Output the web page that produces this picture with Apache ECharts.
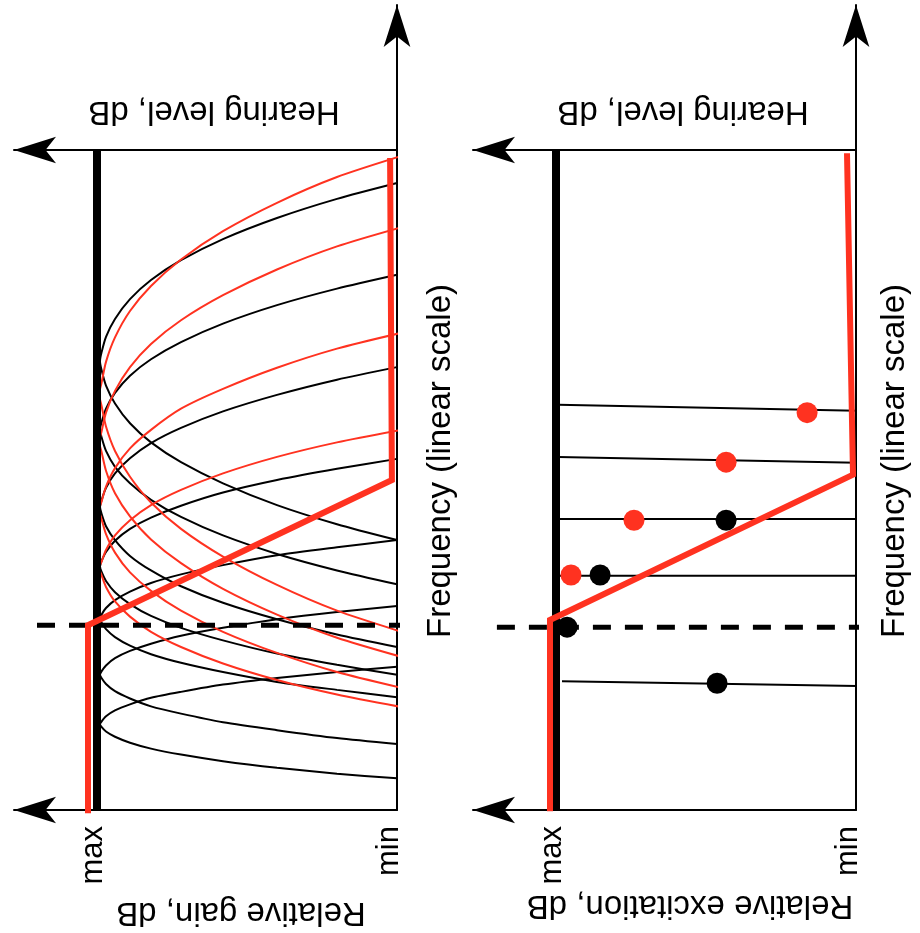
<!DOCTYPE html>
<html><head><meta charset="utf-8">
<script src="https://cdn.jsdelivr.net/npm/echarts@6/dist/echarts.min.js"></script>
<style>html,body{margin:0;padding:0;background:#fff}#c{width:920px;height:933px}</style>
</head><body><div id="c"></div>
<script>
// ---- Data (gain: 0 = min, 100 = max; frequency: 0 = bottom, 100 = top of box) ----
const gainTickValues = [0, 100];
const gainTickLabels = ['min', 'max'];

// gain positions sampled along each filter curve (lower tail -> tip -> upper tail)
const filterGain = [0, 20, 40, 58, 72, 82, 89, 94, 97, 98.5, 99, 98.5, 97, 94, 89, 82, 72, 58, 40, 20, 0];
const redGain = [-1.5, 20, 40, 58, 72, 82, 89, 94, 97, 98.5, 99.3, 98.5, 97, 94, 89, 82, 72, 58, 40, 20, -1.5];

// normal-hearing filters (black): frequency at each sampled gain
const blackG = [40.9, 43.3, 46.2, 49.5, 52.7, 55.7, 58.6, 61.6, 64.3, 66.7, 68.0, 69.3, 71.7, 74.4, 77.4, 80.3, 83.3, 86.5, 89.7, 92.6, 95.0];
const blackF = [34.2, 36.3, 38.8, 41.6, 44.4, 47.0, 49.5, 52.0, 54.4, 56.5, 57.6, 58.7, 60.8, 63.2, 65.8, 68.3, 70.9, 73.7, 76.5, 79.0, 81.1];
const blackE = [24.7, 26.6, 28.9, 31.4, 33.9, 36.3, 38.5, 40.9, 43.0, 44.9, 45.9, 46.9, 48.8, 51.0, 53.3, 55.6, 57.9, 60.4, 62.9, 65.2, 67.1];
const blackD = [20.5, 22.0, 23.7, 25.7, 27.6, 29.4, 31.2, 33.0, 34.7, 36.1, 36.9, 37.7, 39.1, 40.8, 42.6, 44.3, 46.1, 48.1, 50.0, 51.7, 53.2];
const blackC = [17.1, 18.2, 19.4, 20.9, 22.3, 23.6, 24.9, 26.2, 27.4, 28.4, 29.0, 29.6, 30.6, 31.8, 33.1, 34.4, 35.7, 37.1, 38.6, 39.8, 40.9];
const blackB = [10.0, 10.9, 12.1, 13.3, 14.6, 15.7, 16.9, 18.0, 19.1, 20.0, 20.5, 21.0, 21.9, 23.0, 24.1, 25.2, 26.4, 27.6, 28.9, 30.0, 30.9];
const blackA = [4.8, 5.5, 6.4, 7.4, 8.4, 9.3, 10.2, 11.1, 11.9, 12.6, 13.0, 13.4, 14.2, 15.1, 16.0, 17.0, 17.9, 19.0, 20.0, 20.9, 21.7];

// broadened filters (red)
const red1 = [27.0, 30.2, 34.1, 38.4, 42.6, 46.6, 50.5, 54.4, 58.1, 61.3, 63.0, 64.7, 67.9, 71.6, 75.6, 79.4, 83.4, 87.7, 92.0, 95.9, 99.1];
const red2 = [23.2, 26.1, 29.6, 33.5, 37.4, 41.0, 44.5, 48.0, 51.4, 54.3, 55.8, 57.3, 60.2, 63.5, 67.1, 70.6, 74.2, 78.0, 81.9, 85.4, 88.3];
const red3 = [18.5, 20.9, 23.8, 27.0, 30.2, 33.2, 36.0, 39.0, 41.8, 44.1, 45.4, 46.7, 49.0, 51.8, 54.8, 57.6, 60.8, 63.8, 67.0, 69.9, 72.3];
const red4 = [15.6, 17.5, 19.7, 22.2, 24.7, 27.0, 29.3, 31.6, 33.8, 35.6, 36.6, 37.6, 39.4, 41.6, 43.9, 46.2, 48.5, 51.0, 53.5, 55.7, 57.6];

// hearing loss profile [gain, frequency]
const lossLeft = [[103, -0.5], [103, 28.0], [1.7, 50.0], [2.3, 98.8]];
const lossRight = [[102, -0.2], [102, 28.8], [1.0, 50.8], [3.0, 99.5]];

// dashed edge frequency line
const edgeLeft = [[120, 28.0], [-1, 28.0]];
const edgeRight = [[119.7, 27.7], [-1.3, 27.7]];

// normal max line
const maxLine = [[100, 0], [100, 100]];

// excitation channel lines
const chan1 = [[99.3, 61.4], [-0.3, 60.5]];
const chan2 = [[99.3, 53.5], [-0.3, 52.6]];
const chan3 = [[99.3, 44.1], [-1.3, 44.1]];
const chan4 = [[99.3, 35.5], [0.3, 35.5]];
const chan5 = [[98.0, 19.5], [-0.3, 18.8]];

const redDots = [[16.3, 60.2], [43.3, 52.7], [74.0, 43.9], [95.0, 35.6]];
const blackDots = [[43.3, 43.9], [85.3, 35.6], [96.3, 27.7], [46.3, 19.2]];

// ---- Build ----
const RED = '#ff3220';
const FONT = 'Liberation Sans, Arial, Helvetica, sans-serif';
const zip = (gs, fs) => gs.map((g, i) => [g, fs[i]]);

function lineSeries(data, color, width, gi, extra) {
  return Object.assign({
    type: 'line', data: data, xAxisIndex: gi * 2, yAxisIndex: gi,
    symbol: 'none', clip: false, silent: true,
    lineStyle: { color: color, width: width }
  }, extra || {});
}

const series = [];
[blackG, blackF, blackE, blackD, blackC, blackB, blackA].forEach(f =>
  series.push(lineSeries(zip(filterGain, f), '#000', 2, 0, { smooth: 0.25 })));
[red1, red2, red3, red4].forEach(f =>
  series.push(lineSeries(zip(redGain, f), RED, 2, 0, { smooth: 0.25 })));
series.push(lineSeries(maxLine, '#000', 8, 0));
series.push(lineSeries(edgeLeft, '#000', 5, 0, { lineStyle: { color: '#000', width: 5, type: [18, 14] } }));
series.push(lineSeries(lossLeft, RED, 6, 0, { lineStyle: { color: RED, width: 6, join: 'miter' } }));

series.push(lineSeries(maxLine, '#000', 8, 1));
[chan1, chan2, chan3, chan4, chan5].forEach(c => series.push(lineSeries(c, '#000', 2, 1)));
series.push(lineSeries(edgeRight, '#000', 5, 1, { lineStyle: { color: '#000', width: 5, type: [18, 14] } }));
series.push(lineSeries(lossRight, RED, 6, 1, { lineStyle: { color: RED, width: 6, join: 'miter' } }));
series.push({ type: 'scatter', xAxisIndex: 2, yAxisIndex: 1, data: redDots, symbolSize: 21,
  itemStyle: { color: RED, opacity: 1 }, silent: true, clip: false, z: 5 });
series.push({ type: 'scatter', xAxisIndex: 2, yAxisIndex: 1, data: blackDots, symbolSize: 21,
  itemStyle: { color: '#000', opacity: 1 }, silent: true, clip: false, z: 5 });

const GRID_TOP = 5, GRID_W = 383, GRID_H = 805;
const GX_MAX = GRID_W / 3;    // gain units across grid width (3 px per unit)
const FY_MAX = GRID_H / 6.6;  // frequency units across grid height (6.6 px per unit)

function axisLine(sym) {
  return { show: true, onZero: false, symbol: sym, symbolSize: [20, 42],
    lineStyle: { color: '#000', width: 2 } };
}
function xAx(gi, pos) {
  const a = {
    type: 'value', gridIndex: gi, position: pos, min: 0, max: GX_MAX, inverse: true,
    axisLine: axisLine(['arrow', 'none']), axisTick: { show: false }, splitLine: { show: false },
    axisLabel: { show: false }
  };
  if (pos === 'top') a.offset = -(150 - GRID_TOP);
  if (pos === 'bottom') {
    a.interval = 100;
    a.axisLabel = {
      show: true, rotate: 90, margin: 16, color: '#000', fontSize: 31, fontFamily: FONT,
      showMaxLabel: false,
      formatter: v => {
        const i = gainTickValues.indexOf(v);
        return i < 0 ? '' : '{' + (i === 0 ? 'lo' : 'hi') + '|' + gainTickLabels[i] + '}';
      },
      rich: {
        lo: { fontSize: 31, fontFamily: FONT, color: '#000', padding: [0, 0, 16, 0] },
        hi: { fontSize: 31, fontFamily: FONT, color: '#000', padding: [0, 0, 8, 0] }
      }
    };
  }
  return a;
}
function yAx(gi) {
  return { type: 'value', gridIndex: gi, position: 'right', min: 0, max: FY_MAX,
    axisLine: axisLine(['none', 'arrow']), axisTick: { show: false }, splitLine: { show: false },
    axisLabel: { show: false } };
}

function txt(s, x, y, rot) {
  return { type: 'text', x: x, y: y, rotation: rot, silent: true,
    style: { text: s, fontSize: 33, fontFamily: FONT, fill: '#000', align: 'center', verticalAlign: 'middle' } };
}

const option = {
  animation: false,
  backgroundColor: '#fff',
  grid: [
    { left: 14, top: GRID_TOP, width: GRID_W, height: GRID_H },
    { left: 473, top: GRID_TOP, width: GRID_W, height: GRID_H }
  ],
  xAxis: [xAx(0, 'bottom'), xAx(0, 'top'), xAx(1, 'bottom'), xAx(1, 'top')],
  yAxis: [yAx(0), yAx(1)],
  series: series,
  graphic: [
    txt('Hearing level, dB', 214, 111, Math.PI),
    txt('Hearing level, dB', 683, 111, Math.PI),
    txt('Relative gain, dB', 241, 912, Math.PI),
    txt('Relative excitation, dB', 690, 905, Math.PI),
    txt('Frequency (linear scale)', 441, 461, Math.PI / 2),
    txt('Frequency (linear scale)', 895, 461, Math.PI / 2)
  ]
};
echarts.init(document.getElementById('c'), null, { renderer: 'canvas' }).setOption(option);
</script></body></html>
